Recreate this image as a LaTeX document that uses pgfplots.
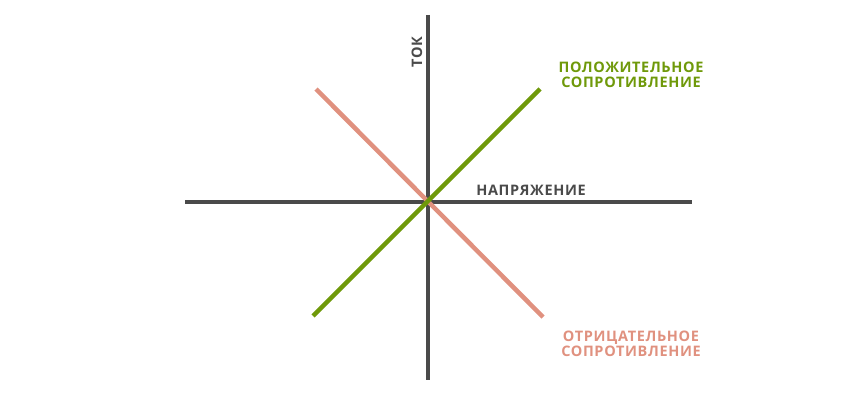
\documentclass[border=0pt]{standalone}
\usepackage{pgfplots}
\pgfplotsset{compat=1.18}
\usepackage{fontspec}
\setmainfont{Open Sans}[LetterSpace=4.5]
\definecolor{axisgray}{HTML}{4A4A4A}
\definecolor{posgreen}{HTML}{6F990A}
\definecolor{negpink}{HTML}{E0917F}
\tikzset{lbl/.style={font=\bfseries\fontsize{14.5}{16.5}\selectfont, align=center}}
\begin{document}
\begin{tikzpicture}
\begin{axis}[
    width=850pt, height=400pt, scale only axis,
    xmin=0, xmax=850, ymin=0, ymax=400,
    axis lines=none, clip=false,
]
% page frame, invisible
\path (axis cs:0,0) rectangle (axis cs:850,400);
% axes
\addplot[axisgray, line width=4.5pt] coordinates {(185,198) (692,198)};
\addplot[axisgray, line width=4.5pt] coordinates {(428,385) (428,20)};
% resistance lines
\addplot[negpink, line width=4.5pt] coordinates {(316,311) (543,83)};
\addplot[posgreen, line width=4.5pt] coordinates {(313,84) (540,311)};
% labels
\node[lbl, text=axisgray, rotate=90] at (axis cs:417,348) {ТОК};
\node[lbl, text=axisgray] at (axis cs:531,210) {НАПРЯЖЕНИЕ};
\node[lbl, text=posgreen] at (axis cs:631,325) {ПОЛОЖИТЕЛЬНОЕ\\[-1pt]СОПРОТИВЛЕНИЕ};
\node[lbl, text=negpink] at (axis cs:631,56) {ОТРИЦАТЕЛЬНОЕ\\[-1pt]СОПРОТИВЛЕНИЕ};
\end{axis}
\end{tikzpicture}
\end{document}
